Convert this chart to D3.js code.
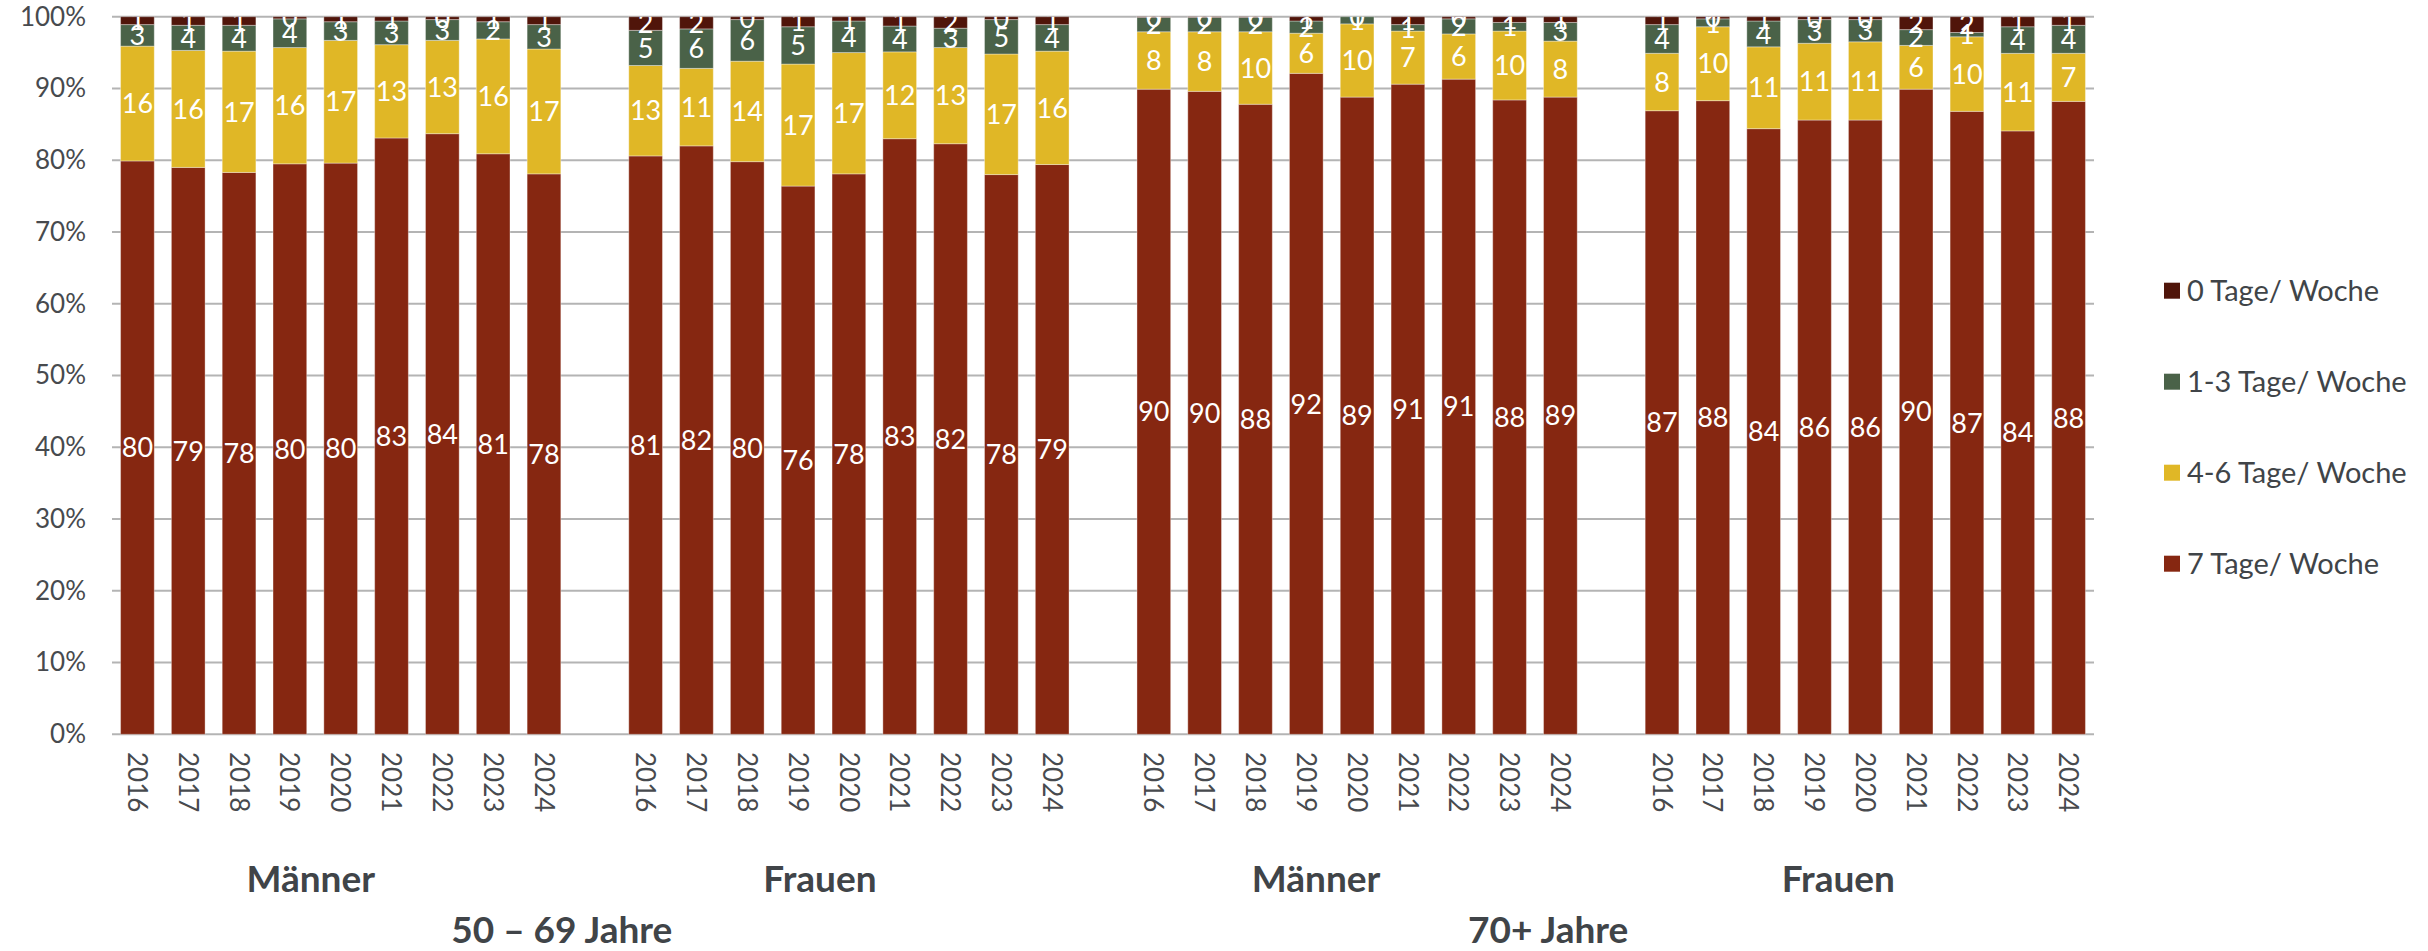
<!DOCTYPE html>
<html>
<head>
<meta charset="utf-8">
<script src="https://cdn.jsdelivr.net/npm/d3@7"></script>
<style>
  html, body { margin: 0; padding: 0; background: #fff; }
  svg text { font-family: Lato, "Noto Sans", sans-serif; }
</style>
</head>
<body>
<svg id="chart" width="2428" height="951"></svg>
<script>
// Jahre und Gruppen
const years = ['2016', '2017', '2018', '2019', '2020', '2021', '2022', '2023', '2024'];
const groups = ['Männer', 'Frauen', 'Männer', 'Frauen'];
const ageGroups = ['50 – 69 Jahre', '70+ Jahre'];
const seriesNames = ['7 Tage/ Woche', '4-6 Tage/ Woche', '1-3 Tage/ Woche', '0 Tage/ Woche'];
const colors = ['#862711', '#e0b726', '#4a6248', '#50150a'];
const yTicks = [0, 10, 20, 30, 40, 50, 60, 70, 80, 90, 100];

// Werte je Serie, 4 Gruppen x 9 Jahre
const tage7 = [
  79.9, 79.0, 78.3, 79.5, 79.6, 83.1, 83.7, 80.9, 78.1,
  80.6, 82.0, 79.8, 76.4, 78.1, 83.0, 82.3, 78.0, 79.4,
  89.9, 89.6, 87.8, 92.2, 88.8, 90.6, 91.3, 88.4, 88.8,
  86.9, 88.3, 84.4, 85.6, 85.6, 89.9, 86.9, 84.0, 88.2
];
const tage46 = [
  16.0, 16.3, 16.9, 16.2, 17.1, 13.0, 13.0, 16.0, 17.4,
  12.6, 10.8, 14.0, 17.0, 16.9, 12.1, 13.4, 16.8, 15.8,
  8.0, 8.3, 10.1, 5.6, 10.2, 7.4, 6.3, 9.6, 7.8,
  8.0, 10.3, 11.4, 10.7, 10.9, 6.1, 10.4, 10.8, 6.7
];
const tage13 = [
  3.0, 3.5, 3.6, 4.0, 2.6, 3.3, 2.9, 2.4, 3.4,
  4.9, 5.5, 5.8, 5.2, 4.4, 3.6, 2.7, 4.8, 3.7,
  2.0, 2.0, 2.0, 1.7, 1.0, 0.9, 2.1, 1.2, 2.6,
  4.0, 1.1, 3.6, 3.3, 3.1, 2.2, 0.6, 3.7, 3.9
];
const tage0 = [
  1.1, 1.2, 1.2, 0.3, 0.7, 0.6, 0.4, 0.7, 1.1,
  1.9, 1.7, 0.4, 1.4, 0.6, 1.3, 1.6, 0.4, 1.1,
  0.1, 0.1, 0.1, 0.6, 0.0, 1.1, 0.3, 0.8, 0.8,
  1.1, 0.3, 0.6, 0.4, 0.4, 1.8, 2.2, 1.4, 1.2
];
const seriesValues = [tage7, tage46, tage13, tage0];

const svg = d3.select('#chart');
const plotLeft = 112, plotRight = 2094, plotTop = 16.7, plotBottom = 734.3;

// Kategorien mit einer Leerstelle zwischen den Gruppen
const slots = [];
const rows = [];
groups.forEach((g, gi) => {
  if (gi > 0) slots.push('gap' + gi);
  years.forEach((yr, yi) => {
    const key = gi + '-' + yr;
    slots.push(key);
    const row = { key, year: yr, group: gi };
    seriesNames.forEach((s, si) => (row[s] = seriesValues[si][gi * 9 + yi]));
    rows.push(row);
  });
});

const x = d3.scaleBand().domain(slots).range([plotLeft, plotRight])
  .paddingInner(0.337).paddingOuter(0.1685);
const y = d3.scaleLinear().domain([0, 1]).range([plotBottom, plotTop]);

const stacked = d3.stack().keys(seriesNames).offset(d3.stackOffsetExpand)(rows);

// Gitternetz
svg.append('g')
  .selectAll('line')
  .data(yTicks)
  .enter()
  .append('line')
  .attr('x1', plotLeft)
  .attr('x2', plotRight)
  .attr('y1', d => y(d / 100))
  .attr('y2', d => y(d / 100))
  .style('stroke', '#b4b4b4')
  .style('stroke-width', 2);

// y-Achse
const yAxis = svg.append('g')
  .attr('transform', `translate(${plotLeft},0)`)
  .call(d3.axisLeft(y).tickValues(yTicks.map(d => d / 100)).tickFormat(d3.format('.0%')).tickSize(0).tickPadding(26));
yAxis.select('.domain').remove();
yAxis.selectAll('text')
  .style('font-size', '26px')
  .style('fill', '#474a4e');

// Balken
svg.append('g')
  .selectAll('g')
  .data(stacked)
  .enter()
  .append('g')
  .style('fill', (d, i) => colors[i])
  .selectAll('rect')
  .data(d => d)
  .enter()
  .append('rect')
  .attr('x', d => x(d.data.key))
  .attr('width', x.bandwidth())
  .attr('y', d => y(d[1]))
  .attr('height', d => y(d[0]) - y(d[1]))
  .style('stroke', 'rgba(255,255,255,0.35)')
  .style('stroke-width', 1);

// Datenbeschriftungen, oben auf die Zeichenfläche beschnitten
svg.append('clipPath').attr('id', 'plotClip')
  .append('rect').attr('x', plotLeft).attr('y', plotTop)
  .attr('width', plotRight - plotLeft).attr('height', plotBottom - plotTop);

const labels = svg.append('g').attr('clip-path', 'url(#plotClip)');
stacked.forEach(s => {
  labels.append('g')
    .selectAll('text')
    .data(s)
    .enter()
    .append('text')
    .attr('x', d => x(d.data.key) + x.bandwidth() / 2)
    .attr('y', d => y((d[0] + d[1]) / 2))
    .attr('text-anchor', 'middle')
    .attr('dy', '0.36em')
    .style('font-size', '27px')
    .style('fill', '#fff')
    .text(d => Math.round(d.data[s.key]));
});

// Jahreszahlen
svg.append('g')
  .selectAll('text')
  .data(rows)
  .enter()
  .append('text')
  .attr('transform', d => `translate(${x(d.key) + x.bandwidth() / 2},752) rotate(90)`)
  .attr('dy', '0.36em')
  .style('font-size', '26px')
  .style('fill', '#474a4e')
  .text(d => d.year);

// Gruppen
const groupShift = [-30, -29, -41, -27];
svg.append('g')
  .selectAll('text')
  .data(groups)
  .enter()
  .append('text')
  .attr('x', (d, i) => (x(i + '-2016') + x(i + '-2024') + x.bandwidth()) / 2 + groupShift[i])
  .attr('y', 892)
  .attr('text-anchor', 'middle')
  .style('font-size', '37px')
  .style('font-weight', 'bold')
  .style('fill', '#404448')
  .text(d => d);

const ageShift = [-33, -63];
svg.append('g')
  .selectAll('text')
  .data(ageGroups)
  .enter()
  .append('text')
  .attr('x', (d, i) => (x((i * 2) + '-2016') + x((i * 2 + 1) + '-2024') + x.bandwidth()) / 2 + ageShift[i])
  .attr('y', 943)
  .attr('text-anchor', 'middle')
  .style('font-size', '37px')
  .style('font-weight', 'bold')
  .style('fill', '#404448')
  .text(d => d);

// Legende
const legendOrder = [3, 2, 1, 0];
const legend = svg.append('g')
  .selectAll('g')
  .data(legendOrder)
  .enter()
  .append('g')
  .attr('transform', (d, i) => `translate(2164,${290.7 + i * 91})`);
legend.append('rect')
  .attr('x', 0)
  .attr('y', -8)
  .attr('width', 16)
  .attr('height', 16)
  .style('fill', d => colors[d]);
legend.append('text')
  .attr('x', 23)
  .attr('dy', '0.36em')
  .style('font-size', '29px')
  .style('fill', '#404448')
  .text(d => seriesNames[d]);
</script>
</body>
</html>
